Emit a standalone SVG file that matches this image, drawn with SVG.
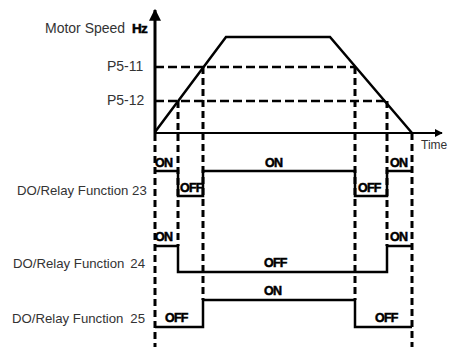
<svg xmlns="http://www.w3.org/2000/svg" width="452" height="347" viewBox="0 0 452 347">
<style>
.lbl{font-family:"Liberation Sans",Arial,sans-serif;font-size:13.2px;fill:#333}
.st{font-family:"Liberation Sans",Arial,sans-serif;font-size:12.5px;font-weight:bold;fill:#000;stroke:#000;stroke-width:0.5;letter-spacing:-0.8px}
.sig{fill:none;stroke:#000;stroke-width:2.5}
.hd{fill:none;stroke:#000;stroke-width:2.5;stroke-dasharray:9 4}
.vd{fill:none;stroke:#000;stroke-width:3;stroke-dasharray:7 4}
</style>
<defs>
<marker id="ah" viewBox="0 0 10 10" refX="9" refY="5" markerWidth="4" markerHeight="4" orient="auto" markerUnits="strokeWidth">
<path d="M0,0 L10,5 L0,10 Z" fill="#000"/>
</marker>
</defs>
<rect width="452" height="347" fill="#fff"/>
<g id="connectors">
<line class="hd" x1="155" y1="67" x2="355" y2="67"/>
<line class="hd" x1="155" y1="101" x2="387" y2="101"/>
<line class="vd" x1="155" y1="134" x2="155" y2="347"/>
<line class="vd" x1="178" y1="101" x2="178" y2="246"/>
<line class="vd" x1="203" y1="67" x2="203" y2="300"/>
<line class="vd" x1="355" y1="67" x2="355" y2="300"/>
<line class="vd" x1="387" y1="101" x2="387" y2="246"/>
<line class="vd" x1="412" y1="133" x2="412" y2="347"/>
</g>
<g id="axes">
<line x1="155" y1="134" x2="155" y2="10" stroke="#000" stroke-width="3" marker-end="url(#ah)"/>
<line x1="154" y1="133" x2="442" y2="133" stroke="#000" stroke-width="2" marker-end="url(#ah)"/>
<text class="lbl" x="45" y="33" style="font-size:14px">Motor Speed</text>
<text x="132" y="33" style="font-family:'Liberation Sans',Arial,sans-serif;font-size:13.5px;font-weight:bold;stroke:#000;stroke-width:0.5;letter-spacing:-0.8px">Hz</text>
<text class="lbl" x="107" y="71" style="font-size:14px">P5-11</text>
<text class="lbl" x="107" y="105" style="font-size:14px">P5-12</text>
<text class="lbl" x="421" y="149" style="font-size:12px">Time</text>
</g>
<g id="speed">
<polyline class="sig" stroke-width="3" points="155,132 226,37 330,37 412,133"/>
</g>
<g id="do23">
<text class="lbl" x="17" y="195">DO/Relay Function 23</text>
<polyline class="sig" points="155,171 178,171 178,196 203,196 203,171 355,171 355,196 387,196 387,171 412,171"/>
<text class="st" x="155" y="167">ON</text>
<text class="st" x="180" y="192">OFF</text>
<text class="st" x="265" y="167">ON</text>
<text class="st" x="358" y="192">OFF</text>
<text class="st" x="390" y="167">ON</text>
</g>
<g id="do24">
<text class="lbl" x="13" y="268">DO/Relay Function</text>
<text class="lbl" x="145" y="268" text-anchor="end">24</text>
<polyline class="sig" points="155,246 178,246 178,272 387,272 387,246 412,246"/>
<text class="st" x="155" y="241">ON</text>
<text class="st" x="264" y="267">OFF</text>
<text class="st" x="390" y="241">ON</text>
</g>
<g id="do25">
<text class="lbl" x="12" y="323">DO/Relay Function</text>
<text class="lbl" x="145" y="323" text-anchor="end">25</text>
<polyline class="sig" points="155,327 203,327 203,300 355,300 355,327 412,327"/>
<text class="st" x="165" y="322">OFF</text>
<text class="st" x="264" y="295">ON</text>
<text class="st" x="375" y="322">OFF</text>
</g>
</svg>
